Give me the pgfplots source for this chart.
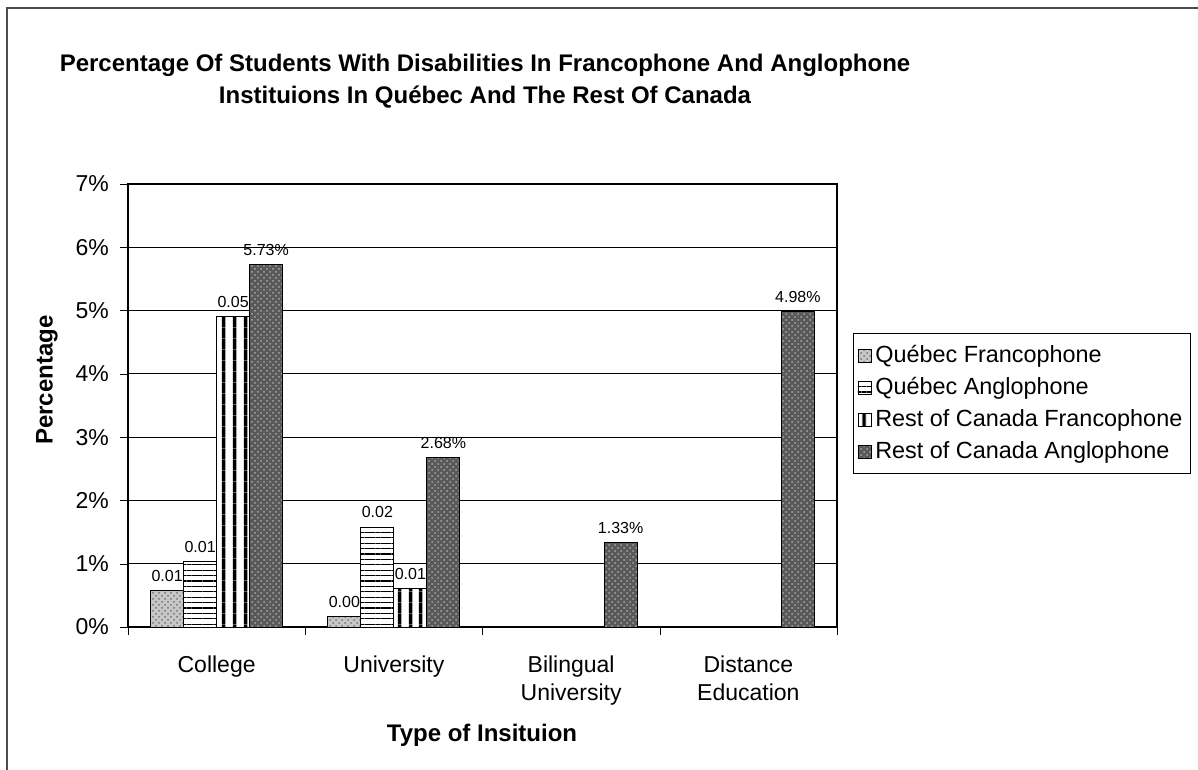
\documentclass[border=0pt]{standalone}
\usepackage{fontspec}
\setmainfont{Liberation Sans}
\usepackage{pgfplots}
\pgfplotsset{compat=1.18}
\usetikzlibrary{patterns,patterns.meta}
\begin{document}
\begin{tikzpicture}
\useasboundingbox (0,0) rectangle (599pt,385pt);
\draw[black!70,line width=0.8pt] (3.5pt,0pt) -- (3.5pt,381pt) -- (599pt,381pt);
\node[align=center,font=\fontsize{12}{16}\selectfont\bfseries] at (242.5pt,344.5pt)
  {Percentage Of Students With Disabilities In Francophone And Anglophone\\Instituions In Québec And The Rest Of Canada};
\node[rotate=90,font=\fontsize{12}{14}\selectfont\bfseries] at (23.5pt,195pt) {Percentage};
\node[font=\fontsize{12}{14}\selectfont\bfseries] at (241pt,17.5pt) {Type of Insituion};
\begin{axis}[
  at={(64pt,71.5pt)}, anchor=south west,
  scale only axis, width=354.5pt, height=221.5pt,
  xmin=0, xmax=4, ymin=0, ymax=7,
  ybar=0pt, bar width=16.5pt,
  axis line style={black, line width=0.6pt},
  ymajorgrids, grid style={black, line width=0.5pt},
  ytick={0,1,...,7},
  yticklabel={\pgfmathprintnumber{\tick}\%},
  ytick pos=left, xtick pos=bottom, tick align=outside, major tick length=4pt,
  ytick style={black},
  /pgf/number format/assume math mode=true,
  yticklabel style={font=\fontsize{11.5}{13}\selectfont, xshift=-2pt},
  xtick={0.5,1.5,2.5,3.5},
  xticklabels={College,University,{Bilingual\\University},{Distance\\Education}},
  xticklabel style={align=center, font=\fontsize{11.5}{14}\selectfont, yshift=-7pt},
  major x tick style={draw=none},
  extra x ticks={0,1,2,3,4},
  extra x tick labels={},
  extra x tick style={grid=none, major tick length=4pt, tick align=outside, xtick pos=bottom, major x tick style={draw=black}},
  nodes near coords, point meta=explicit symbolic,
  every node near coord/.append style={font=\fontsize{8}{9}\selectfont, black, yshift=1pt},
  legend style={at={(1.0226,0.6637)}, anchor=north west, draw=black, line width=0.5pt,
    font=\fontsize{11.7}{13}\selectfont, row sep=2pt, inner xsep=2pt, inner ysep=4pt},
  legend cell align=left,
  legend image code/.code={\draw[#1,line width=0.4pt] (0pt,-3.2pt) rectangle (6.5pt,3.2pt);},
]
\addplot[draw=black, line width=0.4pt, fill=black!22, postaction={pattern=crosshatch dots, pattern color=black!55}]
  coordinates {(0.5,0.58) [0.01] (1.5,0.17) [0.00]};
\addlegendentry{Québec Francophone}
\addplot[draw=black, line width=0.4pt, fill=white, postaction={pattern={Lines[angle=0,distance=2.7pt,line width=0.55pt]}, pattern color=black}]
  coordinates {(0.5,1.03) [0.01] (1.5,1.58) [0.02]};
\addlegendentry{Québec Anglophone}
\addplot[draw=black, line width=0.4pt, fill=white, postaction={pattern={Lines[angle=90,distance=5.4pt,line width=1.8pt]}, pattern color=black}]
  coordinates {(0.5,4.9) [0.05] (1.5,0.61) [0.01]};
\addlegendentry{Rest of Canada Francophone}
\addplot[draw=black, line width=0.4pt, fill=black!65, postaction={pattern=crosshatch dots, pattern color=black!35}]
  coordinates {(0.5,5.73) [5.73\%] (1.5,2.68) [2.68\%] (2.5,1.33) [1.33\%] (3.5,4.98) [4.98\%]};
\addlegendentry{Rest of Canada Anglophone}
\end{axis}
\end{tikzpicture}
\end{document}
